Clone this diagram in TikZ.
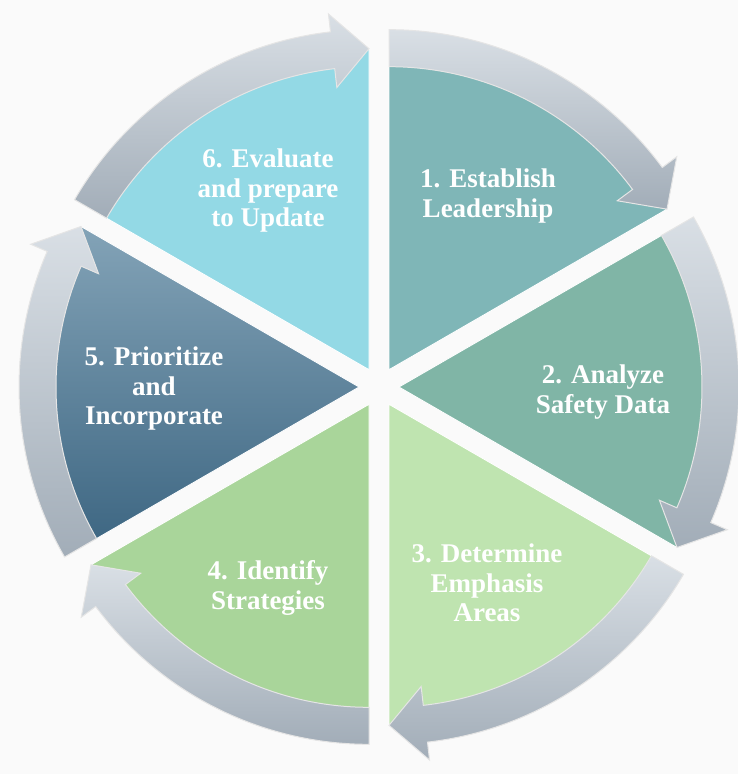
\documentclass[tikz,border=0pt]{standalone}
\usepackage{fontspec}
\setmainfont{Liberation Serif}
\usepackage{xcolor}
\usepackage{tikz}
\usetikzlibrary{positioning}

\definecolor{paper}{HTML}{FAFAFA}
\definecolor{leadcol}{HTML}{7FB6B7}
\definecolor{datacol}{HTML}{80B5A6}
\definecolor{areacol}{HTML}{BFE4B0}
\definecolor{stratcol}{HTML}{A9D59A}
\definecolor{priotop}{HTML}{83A3B7}
\definecolor{priobot}{HTML}{3D6682}
\definecolor{evalcol}{HTML}{93D9E5}
\definecolor{ringtop}{HTML}{D9DFE5}
\definecolor{ringbot}{HTML}{A2ADB8}

\begin{document}
\begin{tikzpicture}[
  x=1pt, y=1pt,
  wedge/.style={draw=white, line width=0.8pt},
  ring/.style={draw=white!80!gray, line width=1pt, top color=ringtop, bottom color=ringbot},
  steptext/.style={text=white, align=center, font=\bfseries\fontsize{27}{29.5}\selectfont}
]

\fill[paper] (0,0) rectangle (738,774);
\useasboundingbox (0,0) rectangle (738,774);
\coordinate (hub) at (379,387);

\foreach \mid/\col in {60/leadcol, 0/datacol, -60/areacol, 240/stratcol, 120/evalcol}{
  \begin{scope}[shift={(hub)}, shift={(\mid:20pt)}]
    \path[wedge, fill=\col] (0,0) -- (\mid+30:320pt)
      arc[start angle=\mid+30, end angle=\mid-30, radius=320pt] -- cycle;
  \end{scope}
}
\begin{scope}[shift={(hub)}, shift={(180:20pt)}]
  \path[wedge, top color=priotop, bottom color=priobot] (0,0) -- (210:320pt)
    arc[start angle=210, end angle=150, radius=320pt] -- cycle;
\end{scope}

\foreach \mid in {60, 0, -60, 240, 180, 120}{
  \begin{scope}[shift={(hub)}, shift={(\mid:20pt)}]
    \path[ring] (\mid+30:340pt)
      arc[start angle=\mid+30, end angle=\mid-23.5, radius=340pt]
      -- (\mid-23.5:358pt) -- (\mid-30:321pt) -- (\mid-23.5:284pt)
      -- (\mid-23.5:303pt)
      arc[start angle=\mid-23.5, end angle=\mid+30, radius=303pt] -- cycle;
  \end{scope}
}

\node[steptext] (establish) at (488,578) {1. Establish\\Leadership};
\node[steptext] (analyze) at (603,382) {2. Analyze\\Safety Data};
\node[steptext] (emphasis) at (487,191) {3. Determine\\Emphasis\\Areas};
\node[steptext] (strategies) at (268,186) {4. Identify\\Strategies};
\node[steptext] (prioritize) at (154,385) {5. Prioritize\\and\\Incorporate};
\node[steptext] (evaluate) at (268,583) {6. Evaluate\\and prepare\\to Update};

\end{tikzpicture}
\end{document}
